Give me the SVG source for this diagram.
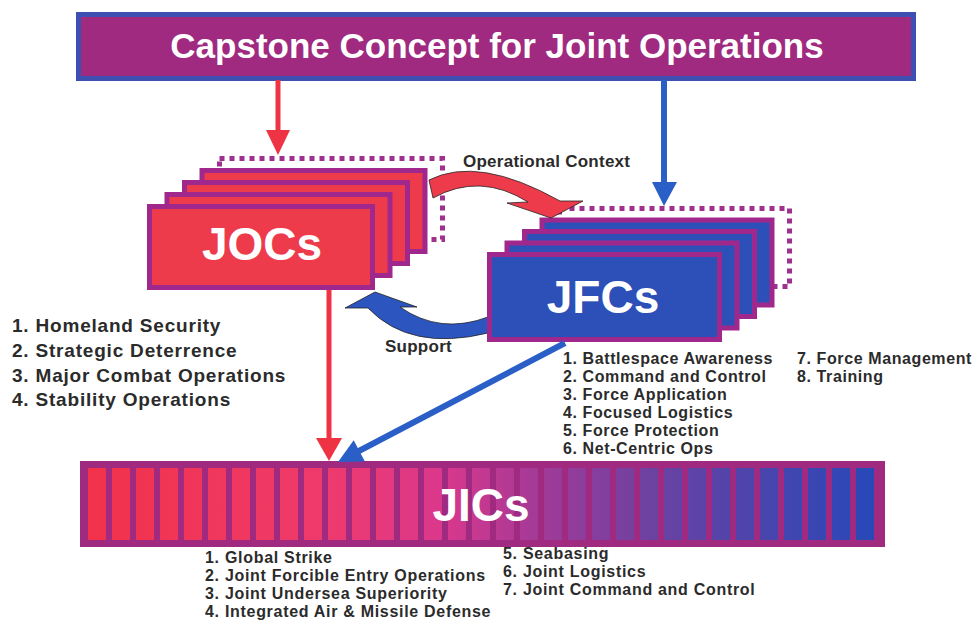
<svg xmlns="http://www.w3.org/2000/svg" width="977" height="620" viewBox="0 0 977 620">
<style>
.lbl{font-family:"Liberation Sans",Arial,sans-serif;font-weight:bold;fill:#2b2b2b}
.big{font-family:"Liberation Sans",Arial,sans-serif;font-weight:bold;fill:#ffffff;text-anchor:middle}
.joc{fill:#EE3B4C;stroke:#A0288C;stroke-width:5}
.jfc{fill:#2C4FB8;stroke:#A0288C;stroke-width:5}
.dot{fill:none;stroke:#A0308E;stroke-width:5;stroke-dasharray:5 5}
.stripe{fill:url(#jicg)}
</style>
<defs>
<linearGradient id="jicg" gradientUnits="userSpaceOnUse" x1="88" y1="0" x2="874" y2="0">
<stop offset="0" stop-color="#F2324A"/>
<stop offset="0.3" stop-color="#EE3A6C"/>
<stop offset="0.45" stop-color="#DA388C"/>
<stop offset="0.58" stop-color="#A03A98"/>
<stop offset="0.72" stop-color="#6A42A2"/>
<stop offset="1" stop-color="#2848B8"/>
</linearGradient>
</defs>
<rect width="977" height="620" fill="#ffffff"/>

<g id="title">
<rect x="78.5" y="14.5" width="835" height="64" fill="#A02A80" stroke="#3E4FB2" stroke-width="5"/>
<text class="big" x="497" y="58" font-size="35">Capstone Concept for Joint Operations</text>
</g>

<g id="jocs">
<rect class="dot" x="219.5" y="158.5" width="223" height="81"/>
<rect class="joc" x="202" y="170.5" width="223" height="81"/>
<rect class="joc" x="184.5" y="182.5" width="223" height="81"/>
<rect class="joc" x="167" y="194.5" width="223" height="81"/>
<rect class="joc" x="149.5" y="206.5" width="223" height="81"/>
<text class="big" x="262" y="260" font-size="46">JOCs</text>
</g>

<g id="connectors-curved">
<path d="M488 317 Q440 335 400 307 L417 307 L375 292 L345 308 L368 308 Q410 352 488 333 Z" fill="#2C55C0" stroke="#222" stroke-width="0.8"/>
</g>

<g id="jfcs">
<rect class="dot" x="559.5" y="208.5" width="230" height="78"/>
<rect class="jfc" x="542" y="220" width="230" height="85"/>
<rect class="jfc" x="524.5" y="231.5" width="230" height="85"/>
<rect class="jfc" x="507" y="243" width="230" height="85"/>
<rect class="jfc" x="489.5" y="254.5" width="230" height="85"/>
<text class="big" x="603" y="313" font-size="46">JFCs</text>
</g>

<g id="jics">
<rect x="80" y="461" width="805" height="86" fill="#A02A80"/>
<g>
<rect class="stripe" x="88" y="468" width="18" height="72"/>
<rect class="stripe" x="112" y="468" width="18" height="72"/>
<rect class="stripe" x="136" y="468" width="18" height="72"/>
<rect class="stripe" x="160" y="468" width="18" height="72"/>
<rect class="stripe" x="184" y="468" width="18" height="72"/>
<rect class="stripe" x="208" y="468" width="18" height="72"/>
<rect class="stripe" x="232" y="468" width="18" height="72"/>
<rect class="stripe" x="256" y="468" width="18" height="72"/>
<rect class="stripe" x="280" y="468" width="18" height="72"/>
<rect class="stripe" x="304" y="468" width="18" height="72"/>
<rect class="stripe" x="328" y="468" width="18" height="72"/>
<rect class="stripe" x="352" y="468" width="18" height="72"/>
<rect class="stripe" x="376" y="468" width="18" height="72"/>
<rect class="stripe" x="400" y="468" width="18" height="72"/>
<rect class="stripe" x="424" y="468" width="18" height="72"/>
<rect class="stripe" x="448" y="468" width="18" height="72"/>
<rect class="stripe" x="472" y="468" width="18" height="72"/>
<rect class="stripe" x="496" y="468" width="18" height="72"/>
<rect class="stripe" x="520" y="468" width="18" height="72"/>
<rect class="stripe" x="544" y="468" width="18" height="72"/>
<rect class="stripe" x="568" y="468" width="18" height="72"/>
<rect class="stripe" x="592" y="468" width="18" height="72"/>
<rect class="stripe" x="616" y="468" width="18" height="72"/>
<rect class="stripe" x="640" y="468" width="18" height="72"/>
<rect class="stripe" x="664" y="468" width="18" height="72"/>
<rect class="stripe" x="688" y="468" width="18" height="72"/>
<rect class="stripe" x="712" y="468" width="18" height="72"/>
<rect class="stripe" x="736" y="468" width="18" height="72"/>
<rect class="stripe" x="760" y="468" width="18" height="72"/>
<rect class="stripe" x="784" y="468" width="18" height="72"/>
<rect class="stripe" x="808" y="468" width="18" height="72"/>
<rect class="stripe" x="832" y="468" width="18" height="72"/>
<rect class="stripe" x="856" y="468" width="18" height="72"/>
</g>
<text class="big" x="481" y="521" font-size="46">JICs</text>
</g>

<g id="connectors">
<path d="M429 180 Q478 155 560 201 L583 201 L551 218 L507 203 L528 202 Q480 172 433 198 Z" fill="#EE3B4C" stroke="#222" stroke-width="0.8"/>
<line x1="278" y1="80" x2="278" y2="132" stroke="#EE3344" stroke-width="5"/>
<polygon points="266,130 290,130 278,155" fill="#EE3344"/>
<line x1="664" y1="80" x2="664" y2="184" stroke="#2B5FC8" stroke-width="6"/>
<polygon points="652,182 677,182 664,206" fill="#2B5FC8"/>
<line x1="329" y1="290" x2="329" y2="440" stroke="#EE3344" stroke-width="5"/>
<polygon points="316,438 342,438 329,461" fill="#EE3344"/>
<line x1="565" y1="343" x2="357" y2="452" stroke="#2B5FC8" stroke-width="6"/>
<polygon points="338,462 353.7,440.2 364.9,461.4" fill="#2B5FC8"/>
</g>

<g id="labels" font-size="17" letter-spacing="0.25">
<text class="lbl" x="463" y="167">Operational Context</text>
<text class="lbl" x="385" y="352">Support</text>
</g>

<g id="joc-list" font-size="19" letter-spacing="0.8">
<text class="lbl" x="12" y="332">1. Homeland Security</text>
<text class="lbl" x="12" y="357">2. Strategic Deterrence</text>
<text class="lbl" x="12" y="382">3. Major Combat Operations</text>
<text class="lbl" x="12" y="406">4. Stability Operations</text>
</g>

<g id="jfc-list" font-size="16" letter-spacing="0.6">
<text class="lbl" x="563" y="364">1. Battlespace Awareness</text>
<text class="lbl" x="563" y="382">2. Command and Control</text>
<text class="lbl" x="563" y="400">3. Force Application</text>
<text class="lbl" x="563" y="418">4. Focused Logistics</text>
<text class="lbl" x="563" y="436">5. Force Protection</text>
<text class="lbl" x="563" y="454">6. Net-Centric Ops</text>
<text class="lbl" x="797" y="364">7. Force Management</text>
<text class="lbl" x="797" y="382">8. Training</text>
</g>

<g id="jic-list" font-size="16" letter-spacing="0.7">
<text class="lbl" x="205" y="563">1. Global Strike</text>
<text class="lbl" x="205" y="581">2. Joint Forcible Entry Operations</text>
<text class="lbl" x="205" y="599">3. Joint Undersea Superiority</text>
<text class="lbl" x="205" y="617">4. Integrated Air &amp; Missile Defense</text>
<text class="lbl" x="503" y="559">5. Seabasing</text>
<text class="lbl" x="503" y="577">6. Joint Logistics</text>
<text class="lbl" x="503" y="595">7. Joint Command and Control</text>
</g>
</svg>
